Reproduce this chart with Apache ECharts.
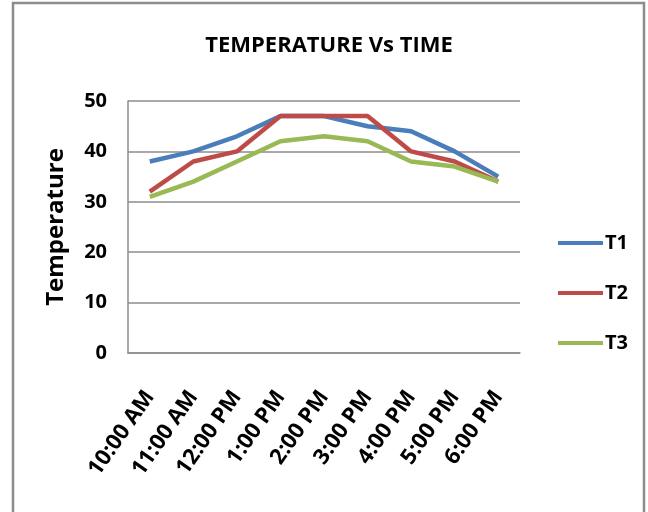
<!DOCTYPE html>
<html>
<head>
<meta charset="utf-8">
<style>
  html, body { margin: 0; padding: 0; background: #fff; }
  #chart { width: 648px; height: 512px; }
</style>
<script src="https://cdn.jsdelivr.net/npm/echarts@6/dist/echarts.min.js"></script>
</head>
<body>
<div id="chart"></div>
<script>
// Hourly readings from three temperature sensors
const times = ['10:00 AM', '11:00 AM', '12:00 PM', '1:00 PM', '2:00 PM', '3:00 PM', '4:00 PM', '5:00 PM', '6:00 PM'];
const t1 = [38, 40, 43, 47, 47, 45, 44, 40, 35];
const t2 = [32, 38, 40, 47, 47, 47, 40, 38, 34];
const t3 = [31, 34, 38, 42, 43, 42, 38, 37, 34];
const yTicks = [0, 10, 20, 30, 40, 50];

const FONT = '"Open Sans", "Noto Sans", sans-serif';
const colors = ['#4A7EBB', '#BE4B48', '#98B954'];

const chart = echarts.init(document.getElementById('chart'), null, { renderer: 'canvas' });

function lineSeries(name, data, color) {
  return {
    name: name,
    type: 'line',
    data: data,
    symbol: 'none',
    lineStyle: { width: 4.5, color: color },
    itemStyle: { color: color }
  };
}

chart.setOption({
  animation: false,
  backgroundColor: '#fff',
  title: {
    text: 'TEMPERATURE Vs TIME',
    left: 324,
    textAlign: 'center',
    top: 30,
    textStyle: { fontFamily: FONT, fontSize: 22, fontWeight: 'bold', color: '#000' }
  },
  graphic: [{
    type: 'rect',
    shape: { x: 13, y: 3, width: 631, height: 540 },
    style: { fill: null, stroke: '#8c8c8c', lineWidth: 2.5 },
    silent: true
  }],
  legend: {
    orient: 'vertical',
    left: 553,
    top: 228,
    itemGap: 30,
    itemWidth: 45,
    itemHeight: 4,
    icon: 'rect',
    textStyle: { fontFamily: FONT, fontSize: 20, fontWeight: 'bold', color: '#000', padding: [0, 0, 0, -3] },
    data: ['T1', 'T2', 'T3']
  },
  grid: { left: 128, right: 128, top: 101, bottom: 159, containLabel: false },
  xAxis: {
    type: 'category',
    data: times,
    boundaryGap: true,
    axisLine: { lineStyle: { color: '#8c8c8c', width: 1.5 } },
    axisTick: { show: false },
    axisLabel: {
      rotate: 55,
      margin: 40,
      fontFamily: FONT,
      fontSize: 22,
      fontWeight: 'bold',
      color: '#000',
      interval: 0
    }
  },
  yAxis: {
    type: 'value',
    min: yTicks[0],
    max: yTicks[yTicks.length - 1],
    interval: 10,
    name: 'Temperature',
    nameLocation: 'middle',
    nameGap: 60,
    nameTextStyle: { fontFamily: FONT, fontSize: 24, fontWeight: 'bold', color: '#000' },
    axisLine: { show: true, lineStyle: { color: '#8c8c8c', width: 1.5 } },
    axisTick: { show: false },
    axisLabel: { margin: 21, fontFamily: FONT, fontSize: 20, fontWeight: 'bold', color: '#000' },
    splitLine: { lineStyle: { color: '#8c8c8c', width: 1.5 } }
  },
  series: [
    lineSeries('T1', t1, colors[0]),
    lineSeries('T2', t2, colors[1]),
    lineSeries('T3', t3, colors[2])
  ]
});
</script>
</body>
</html>
